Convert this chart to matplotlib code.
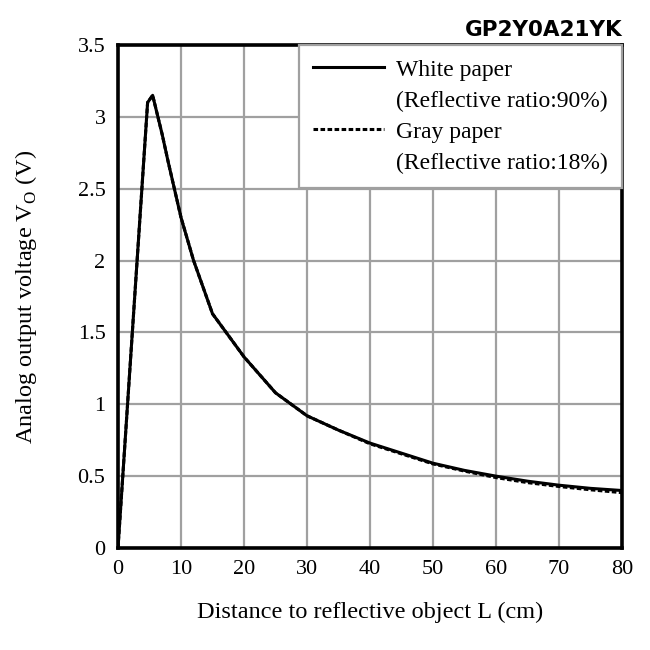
import matplotlib
matplotlib.use("Agg")
import matplotlib.pyplot as plt
from matplotlib.lines import Line2D

# distance (cm) and output voltage (V)
dist_white = [0, 4.7, 5.5, 6, 7, 8, 10, 12, 15, 20, 25, 30, 35, 40, 45, 50, 55, 60, 65, 70, 75, 80]
volt_white = [0, 3.10, 3.15, 3.06, 2.88, 2.68, 2.30, 2.00, 1.63, 1.33, 1.08, 0.92, 0.82, 0.73, 0.66, 0.59, 0.54, 0.50, 0.465, 0.437, 0.415, 0.40]

dist_gray = [0, 4.7, 5.5, 6, 7, 8, 10, 12, 15, 20, 25, 30, 35, 40, 45, 50, 55, 60, 65, 70, 75, 80]
volt_gray = [0, 3.10, 3.15, 3.06, 2.88, 2.68, 2.30, 2.00, 1.63, 1.33, 1.08, 0.92, 0.82, 0.725, 0.655, 0.585, 0.535, 0.49, 0.455, 0.428, 0.405, 0.385]

x_ticks = [0, 10, 20, 30, 40, 50, 60, 70, 80]
y_ticks = [0, 0.5, 1, 1.5, 2, 2.5, 3, 3.5]
y_tick_labels = ["0", "0.5", "1", "1.5", "2", "2.5", "3", "3.5"]

serif = ["Liberation Serif", "DejaVu Serif"]

fig = plt.figure(figsize=(6.5, 6.5), dpi=100)
ax = fig.add_axes([118 / 650, 102 / 650, 504 / 650, 503 / 650])

gray_line, = ax.plot(dist_gray, volt_gray, color="black", lw=2.2, ls=(0, (1.5, 0.8)), zorder=3)
white_line, = ax.plot(dist_white, volt_white, color="black", lw=2.2, zorder=4)

ax.set_xlim(0, 80)
ax.set_ylim(0, 3.5)
ax.set_xticks(x_ticks)
ax.set_yticks(y_ticks)
ax.set_yticklabels(y_tick_labels)
ax.grid(True, color="#a0a0a0", lw=1.6)
ax.set_axisbelow(True)
ax.tick_params(length=0, labelsize=16, pad=9)
for lab in ax.get_xticklabels() + ax.get_yticklabels():
    lab.set_family(serif)
for sp in ax.spines.values():
    sp.set_linewidth(2.6)
    sp.set_color("black")

ax.set_xlabel("Distance to reflective object L (cm)", family=serif, fontsize=17.5, labelpad=16)
ax.set_ylabel("Analog output voltage V$_\\mathregular{O}$ (V)", family=serif, fontsize=17.5, labelpad=28)

# legend: one row per text line, the second line of each entry has no handle
blank = Line2D([], [], color="none")
leg = ax.legend([white_line, blank, gray_line, blank],
                ["White paper", "(Reflective ratio:90%)", "Gray paper", "(Reflective ratio:18%)"],
                loc="upper right", fancybox=False,
                borderaxespad=0, prop={"family": serif, "size": 17},
                handlelength=3.0, handletextpad=0.5, labelspacing=0.4,
                borderpad=0.6, framealpha=1)
leg.get_frame().set_edgecolor("#a0a0a0")
leg.get_frame().set_linewidth(1.6)

fig.text(622 / 650, 1 - 30 / 650, "GP2Y0A21YK", ha="right", va="center",
         fontsize=15.5, fontweight="bold", family="DejaVu Sans")

fig.savefig("out.png", dpi=100, facecolor="white")
